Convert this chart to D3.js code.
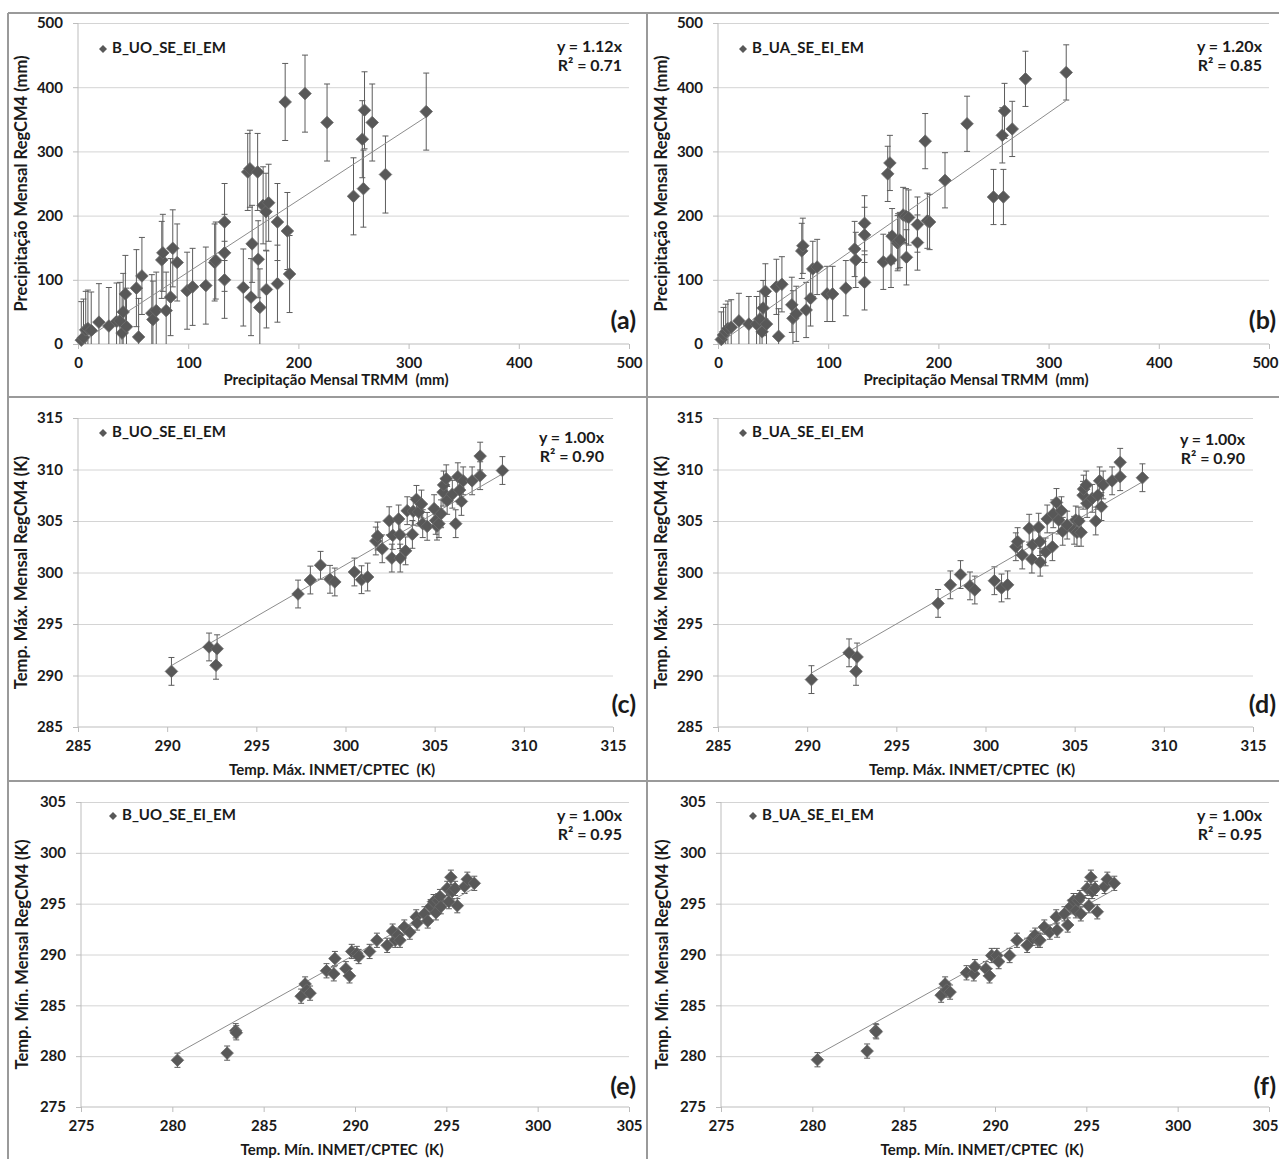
<!DOCTYPE html>
<html>
<head>
<meta charset="utf-8">
<script src="https://cdnjs.cloudflare.com/ajax/libs/d3/7.8.5/d3.min.js"></script>
<style>
  html, body { margin: 0; padding: 0; background: #fff; }
  svg { display: block; font-family: Lato, "Open Sans", sans-serif; }
</style>
</head>
<body>
<svg id="chart" width="1279" height="1159"></svg>
<script>
// ---------------- DATA ----------------
// Monthly precipitation, TRMM (x) vs RegCM4 (y)
const trmmObs = [3,5,7,9,12,19,28,35,38,40,41,43,44,53,55,58,67,68,71,76,77,80,84,86,90,99,104,116,124,125,133,133,133,150,154,156,157,158,163,163.5,165,168,170.6,171,173,181,181,188,190,192,206,226,250,258,259,260,267,279,316];
const precipUO = [6,10,22,24,21,34,28,35,36,17,50,78,27,87,11,106,48,38,52,131,142,52,73,149,127,83,89,91,127,130,190,142,100,88,268,273,73,156,268,132,57,216,206,85,220,190,94,377,176,109,390,345,230,319,242,364,345,264,362];
const precipUA = [7,14,19,24,26,36,31,31,39,19,56,82,31,89,12,93,61,40,47,145,153,53,71,117,120,78,78,87,148,131,188,170,96,128,265,282,131,168,157,160,162,201,199,135,197,186,158,316,192,190,255,343,229,325,229,363,335,413,423];

// Monthly maximum temperature, INMET/CPTEC (x) vs RegCM4 (y)
const tmaxObs = [290.24,292.35,292.74,292.8,297.34,298.03,298.6,299.13,299.4,300.5,300.9,301.24,301.7,301.8,302.06,302.45,302.6,302.65,302.98,303.05,303.07,303.37,303.46,303.75,303.8,303.98,304.1,304.26,304.33,304.58,304.97,305.06,305.13,305.24,305.36,305.47,305.5,305.65,305.7,305.99,306.18,306.3,306.4,306.5,306.6,307.1,307.55,307.55,308.8];
const tmaxUO = [290.4,292.77,290.99,292.6,297.91,299.27,300.7,299.34,299.08,300.05,299.3,299.56,303.06,303.54,302.3,305.03,301.4,303.6,305.2,303.67,301.4,302.1,306.0,303.7,305.94,307.1,305.87,306.65,304.74,304.48,306.2,305.06,304.5,304.74,305.7,307.8,308.5,309.1,307.0,307.6,304.74,309.3,308.0,306.9,308.9,308.9,309.4,311.3,309.9];
const tmaxUA = [289.6,292.2,290.4,291.8,297.0,298.8,299.8,298.7,298.3,299.2,298.5,298.8,302.5,303.0,301.7,304.3,301.3,302.7,304.4,303.0,301.0,302.0,305.2,302.5,305.7,306.8,305.1,306.0,304.0,304.6,304.1,305.1,303.9,305.0,303.9,307.5,308.1,308.5,306.7,307.2,305.0,307.5,308.9,306.4,308.5,308.9,309.3,310.7,309.2];

// Monthly minimum temperature, INMET/CPTEC (x) vs RegCM4 (y)
const tminObs = [280.28,283.0,283.47,283.5,287.05,287.27,287.36,287.54,288.44,288.84,288.9,289.5,289.7,289.82,290.1,290.2,290.8,291.2,291.76,292.06,292.2,292.35,292.46,292.7,293.0,293.35,293.4,293.8,293.98,294.14,294.3,294.43,294.56,294.65,294.7,295.05,295.14,295.25,295.32,295.48,295.6,296.0,296.15,296.53];
const tminUO = [279.6,280.3,282.5,282.3,285.9,287.1,286.5,286.2,288.4,288.1,289.6,288.6,287.9,290.3,290.1,289.8,290.3,291.4,290.9,292.3,291.4,291.9,291.4,292.7,292.2,293.7,293.1,294.0,293.3,294.7,295.2,294.1,295.3,295.7,294.7,296.5,295.2,297.6,296.2,296.5,294.8,296.7,297.4,297.0];
const tminUA = [279.65,280.5,282.5,282.4,286.0,287.1,286.5,286.3,288.2,288.1,288.8,288.6,287.9,289.9,289.9,289.3,289.9,291.4,290.9,291.6,291.9,291.4,291.4,292.7,292.2,293.7,292.4,294.0,292.9,294.7,295.3,294.3,295.3,295.6,294.0,296.5,294.8,297.6,296.2,296.5,294.2,296.7,297.4,297.0];

// Error-bar half widths per panel (a..f)
const errorBars = [60, 43, 1.35, 1.35, 0.7, 0.7];
// Trend-line slopes (fit through origin) per panel
const slopes = [1.12, 1.20, 1.0025, 1.0, 1.0, 0.9995];
const eqLabels = ["y = 1.12x", "y = 1.20x", "y = 1.00x", "y = 1.00x", "y = 1.00x", "y = 1.00x"];
const r2Labels = ["R² = 0.71", "R² = 0.85", "R² = 0.90", "R² = 0.90", "R² = 0.95", "R² = 0.95"];
const seriesNames = ["B_UO_SE_EI_EM", "B_UA_SE_EI_EM", "B_UO_SE_EI_EM", "B_UA_SE_EI_EM", "B_UO_SE_EI_EM", "B_UA_SE_EI_EM"];
const panelTags = ["(a)", "(b)", "(c)", "(d)", "(e)", "(f)"];
const xTitles = ["Precipitação Mensal TRMM  (mm)", "Precipitação Mensal TRMM  (mm)",
                 "Temp. Máx. INMET/CPTEC  (K)", "Temp. Máx. INMET/CPTEC  (K)",
                 "Temp. Mín. INMET/CPTEC  (K)", "Temp. Mín. INMET/CPTEC  (K)"];
const yTitles = ["Precipitação Mensal RegCM4 (mm)", "Precipitação Mensal RegCM4 (mm)",
                 "Temp. Máx. Mensal RegCM4 (K)", "Temp. Máx. Mensal RegCM4 (K)",
                 "Temp. Mín. Mensal RegCM4 (K)", "Temp. Mín. Mensal RegCM4 (K)"];
const precipTicks = [0, 100, 200, 300, 400, 500];
const tmaxTicks = [285, 290, 295, 300, 305, 310, 315];
const tminTicks = [275, 280, 285, 290, 295, 300, 305];

// ---------------- LAYOUT ----------------
const W = 1279;
const panels = [
  { xs: trmmObs, ys: precipUO, ticks: precipTicks, x0: 78,  x1: 629,  yT: 23,  yB: 344,  clamp: true,
    eqX: 622, eqY: 48, legX: 103, legY: 49, tagX: 636, tagY: 323, xtY: 381, xtX: 336, ytX: 23 },
  { xs: trmmObs, ys: precipUA, ticks: precipTicks, x0: 718, x1: 1269, yT: 23,  yB: 344,  clamp: true,
    eqX: 1262, eqY: 48, legX: 743, legY: 49, tagX: 1276, tagY: 323, xtY: 381, xtX: 976, ytX: 663 },
  { xs: tmaxObs, ys: tmaxUO, ticks: tmaxTicks, x0: 78,  x1: 613,  yT: 418, yB: 727,  clamp: false,
    eqX: 604, eqY: 439, legX: 103, legY: 433, tagX: 636, tagY: 707, xtY: 771, xtX: 332, ytX: 23 },
  { xs: tmaxObs, ys: tmaxUA, ticks: tmaxTicks, x0: 718, x1: 1253, yT: 418, yB: 727,  clamp: false,
    eqX: 1245, eqY: 441, legX: 743, legY: 433, tagX: 1276, tagY: 707, xtY: 771, xtX: 972, ytX: 663 },
  { xs: tminObs, ys: tminUO, ticks: tminTicks, x0: 81,  x1: 629,  yT: 802, yB: 1107, clamp: false,
    eqX: 622, eqY: 817, legX: 113, legY: 816, tagX: 636, tagY: 1089, xtY: 1151, xtX: 342, ytX: 24 },
  { xs: tminObs, ys: tminUA, ticks: tminTicks, x0: 721, x1: 1269, yT: 802, yB: 1107, clamp: false,
    eqX: 1262, eqY: 817, legX: 753, legY: 816, tagX: 1276, tagY: 1089, xtY: 1151, xtX: 982, ytX: 664 }
];

const svg = d3.select("#chart");
const FONT = "Lato, 'Open Sans', sans-serif";
const TXT = "#1a1a1a";
const markerColor = "#585858";
const diamond = r => `M0,${-r}L${r},0L0,${r}L${-r},0Z`;

// ---------------- FRAME ----------------
const frame = svg.append("g").attr("stroke", "#9a9a9a").attr("stroke-width", 2).attr("fill", "none");
frame.append("line").attr("x1", 8).attr("x2", W).attr("y1", 13).attr("y2", 13);
frame.append("line").attr("x1", 8).attr("x2", 8).attr("y1", 13).attr("y2", 1159);
frame.append("line").attr("x1", 647).attr("x2", 647).attr("y1", 13).attr("y2", 1159);
frame.append("line").attr("x1", 8).attr("x2", W).attr("y1", 397).attr("y2", 397);
frame.append("line").attr("x1", 8).attr("x2", W).attr("y1", 781).attr("y2", 781);

// ---------------- PANELS ----------------
panels.forEach((p, i) => {
  const ticks = p.ticks;
  const dom = [ticks[0], ticks[ticks.length - 1]];
  const x = d3.scaleLinear().domain(dom).range([p.x0, p.x1]);
  const y = d3.scaleLinear().domain(dom).range([p.yB, p.yT]);
  const g = svg.append("g");

  // gridlines
  const grid = g.append("g").attr("transform", `translate(${p.x0},0)`)
    .call(d3.axisLeft(y).tickValues(ticks.slice(1)).tickSize(-(p.x1 - p.x0)).tickFormat(""));
  grid.select(".domain").remove();
  grid.selectAll("line").attr("stroke", "#d4d4d4").attr("stroke-width", 1);

  // y axis
  const ya = g.append("g").attr("transform", `translate(${p.x0},0)`)
    .call(d3.axisLeft(y).tickValues(ticks).tickSize(5).tickPadding(10));
  ya.select(".domain").attr("stroke", "#bdbdbd").attr("d", `M0,${p.yT}V${p.yB}`);
  ya.selectAll("line").attr("stroke", "#bdbdbd");
  ya.selectAll("text").attr("font-family", FONT).attr("font-weight", 700)
    .attr("font-size", 15).attr("fill", TXT);

  // x axis
  const xa = g.append("g").attr("transform", `translate(0,${p.yB})`)
    .call(d3.axisBottom(x).tickValues(ticks).tickSize(5).tickPadding(8));
  xa.select(".domain").attr("stroke", "#bdbdbd").attr("d", `M${p.x0},0H${p.x1}`);
  xa.selectAll("line").attr("stroke", "#bdbdbd");
  xa.selectAll("text").attr("font-family", FONT).attr("font-weight", 700)
    .attr("font-size", 15).attr("fill", TXT);
  // keep the last tick label inside the picture
  xa.selectAll(".tick").filter(d => x(d) + 12 > W).select("text")
    .attr("text-anchor", "end").attr("x", d => (W - 1) - x(d));

  // axis titles
  g.append("text").attr("x", p.xtX).attr("y", p.xtY).attr("text-anchor", "middle")
    .attr("dominant-baseline", "middle").attr("font-family", FONT).attr("font-weight", 700)
    .attr("font-size", 15).attr("fill", TXT).attr("xml:space", "preserve")
    .style("white-space", "pre").text(xTitles[i]);
  g.append("text").attr("transform", `translate(${p.ytX},${(p.yT + p.yB) / 2}) rotate(-90)`)
    .attr("text-anchor", "middle").attr("dominant-baseline", "middle")
    .attr("font-family", FONT).attr("font-weight", 700).attr("font-size", 16.5)
    .attr("fill", TXT).text(yTitles[i]);

  const pts = p.xs.map((v, k) => ({ x: v, y: p.ys[k] }));
  const e = errorBars[i];
  const lo = v => p.clamp ? Math.max(dom[0], v - e) : v - e;
  const hi = v => Math.min(dom[1], v + e);

  // error bars
  const eb = g.append("g").attr("stroke", "#5c5c5c").attr("stroke-width", 1);
  eb.selectAll("line.v").data(pts).join("line").attr("class", "v")
    .attr("x1", d => x(d.x)).attr("x2", d => x(d.x))
    .attr("y1", d => y(lo(d.y))).attr("y2", d => y(hi(d.y)));
  eb.selectAll("line.t").data(pts).join("line").attr("class", "t")
    .attr("x1", d => x(d.x) - 3).attr("x2", d => x(d.x) + 3)
    .attr("y1", d => y(hi(d.y))).attr("y2", d => y(hi(d.y)));
  eb.selectAll("line.b").data(pts.filter(d => !(p.clamp && d.y - e <= dom[0]))).join("line").attr("class", "b")
    .attr("x1", d => x(d.x) - 3).attr("x2", d => x(d.x) + 3)
    .attr("y1", d => y(lo(d.y))).attr("y2", d => y(lo(d.y)));

  // trend line
  const xmin = d3.min(p.xs), xmax = d3.max(p.xs);
  g.append("path").datum([xmin, xmax])
    .attr("d", d3.line().x(d => x(d)).y(d => y(slopes[i] * d)))
    .attr("stroke", "#8c8c8c").attr("stroke-width", 1).attr("fill", "none");

  // markers
  g.append("g").selectAll("path").data(pts).join("path")
    .attr("transform", d => `translate(${x(d.x)},${y(d.y)})`)
    .attr("d", diamond(6.3)).attr("fill", markerColor)
    .attr("stroke", "#6c6c6c").attr("stroke-width", 0.8);

  // legend
  g.append("path").attr("transform", `translate(${p.legX},${p.legY})`)
    .attr("d", diamond(4)).attr("fill", markerColor);
  g.append("text").attr("x", p.legX + 9).attr("y", p.legY).attr("dominant-baseline", "middle")
    .attr("font-family", FONT).attr("font-weight", 700).attr("font-size", 15)
    .attr("fill", TXT).text(seriesNames[i]);

  // equation
  g.append("text").attr("x", p.eqX).attr("y", p.eqY).attr("text-anchor", "end")
    .attr("dominant-baseline", "middle").attr("font-family", FONT).attr("font-weight", 700)
    .attr("font-size", 16).attr("fill", TXT).text(eqLabels[i]);
  g.append("text").attr("x", p.eqX).attr("y", p.eqY + 19).attr("text-anchor", "end")
    .attr("dominant-baseline", "middle").attr("font-family", FONT).attr("font-weight", 700)
    .attr("font-size", 16).attr("fill", TXT).text(r2Labels[i]);

  // panel tag
  g.append("text").attr("x", p.tagX).attr("y", p.tagY).attr("text-anchor", "end")
    .attr("dominant-baseline", "middle").attr("font-family", FONT).attr("font-weight", 700)
    .attr("font-size", 25).attr("fill", TXT).text(panelTags[i]);
});
</script>
</body>
</html>
